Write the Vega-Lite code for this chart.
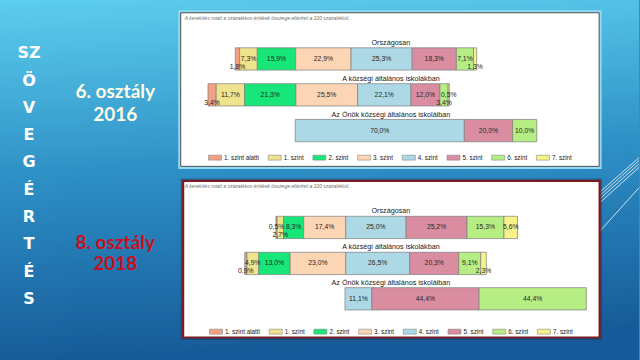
{
  "$schema": "https://vega.github.io/schema/vega-lite/v6.json",
  "width": 640,
  "height": 360,
  "autosize": {"type": "fit", "contains": "padding"},
  "padding": 0,
  "background": "#2E90C6",
  "config": {
    "view": {"stroke": null},
    "locale": {"number": {"decimal": ",", "thousands": " ", "grouping": [3], "currency": ["", " Ft"]}}
  },
  "datasets": {
    "groups": [
      {"gid": "A1", "panel": 2016, "title": "Országosan", "y": 55.5},
      {"gid": "A2", "panel": 2016, "title": "A községi általános iskolákban", "y": 92.4},
      {"gid": "A3", "panel": 2016, "title": "Az Önök községi általános iskoláiban", "y": 129.2},
      {"gid": "B1", "panel": 2018, "title": "Országosan", "y": 228.8},
      {"gid": "B2", "panel": 2018, "title": "A községi általános iskolákban", "y": 265.8},
      {"gid": "B3", "panel": 2018, "title": "Az Önök községi általános iskoláiban", "y": 302.2}
    ],
    "bars": [
      {"gid": "A1", "level": "1. szint alatti", "share": 0.018, "x0": -0.606, "x1": -0.588},
      {"gid": "A1", "level": "1. szint", "share": 0.073, "x0": -0.588, "x1": -0.515},
      {"gid": "A1", "level": "2. szint", "share": 0.159, "x0": -0.515, "x1": -0.356},
      {"gid": "A1", "level": "3. szint", "share": 0.229, "x0": -0.356, "x1": -0.127},
      {"gid": "A1", "level": "4. szint", "share": 0.253, "x0": -0.127, "x1": 0.126},
      {"gid": "A1", "level": "5. szint", "share": 0.183, "x0": 0.126, "x1": 0.309},
      {"gid": "A1", "level": "6. szint", "share": 0.071, "x0": 0.309, "x1": 0.380},
      {"gid": "A1", "level": "7. szint", "share": 0.013, "x0": 0.380, "x1": 0.393},
      {"gid": "A2", "level": "1. szint alatti", "share": 0.034, "x0": -0.719, "x1": -0.685},
      {"gid": "A2", "level": "1. szint", "share": 0.117, "x0": -0.685, "x1": -0.568},
      {"gid": "A2", "level": "2. szint", "share": 0.213, "x0": -0.568, "x1": -0.355},
      {"gid": "A2", "level": "3. szint", "share": 0.255, "x0": -0.355, "x1": -0.100},
      {"gid": "A2", "level": "4. szint", "share": 0.221, "x0": -0.100, "x1": 0.121},
      {"gid": "A2", "level": "5. szint", "share": 0.120, "x0": 0.121, "x1": 0.241},
      {"gid": "A2", "level": "6. szint", "share": 0.034, "x0": 0.241, "x1": 0.275},
      {"gid": "A2", "level": "7. szint", "share": 0.005, "x0": 0.275, "x1": 0.280},
      {"gid": "A3", "level": "4. szint", "share": 0.700, "x0": -0.358, "x1": 0.342},
      {"gid": "A3", "level": "5. szint", "share": 0.200, "x0": 0.342, "x1": 0.542},
      {"gid": "A3", "level": "6. szint", "share": 0.100, "x0": 0.542, "x1": 0.642},
      {"gid": "B1", "level": "1. szint alatti", "share": 0.005, "x0": -0.438, "x1": -0.433},
      {"gid": "B1", "level": "1. szint", "share": 0.027, "x0": -0.433, "x1": -0.406},
      {"gid": "B1", "level": "2. szint", "share": 0.083, "x0": -0.406, "x1": -0.323},
      {"gid": "B1", "level": "3. szint", "share": 0.174, "x0": -0.323, "x1": -0.149},
      {"gid": "B1", "level": "4. szint", "share": 0.250, "x0": -0.149, "x1": 0.101},
      {"gid": "B1", "level": "5. szint", "share": 0.252, "x0": 0.101, "x1": 0.353},
      {"gid": "B1", "level": "6. szint", "share": 0.153, "x0": 0.353, "x1": 0.506},
      {"gid": "B1", "level": "7. szint", "share": 0.056, "x0": 0.506, "x1": 0.562},
      {"gid": "B2", "level": "1. szint alatti", "share": 0.009, "x0": -0.567, "x1": -0.558},
      {"gid": "B2", "level": "1. szint", "share": 0.049, "x0": -0.558, "x1": -0.509},
      {"gid": "B2", "level": "2. szint", "share": 0.130, "x0": -0.509, "x1": -0.379},
      {"gid": "B2", "level": "3. szint", "share": 0.230, "x0": -0.379, "x1": -0.149},
      {"gid": "B2", "level": "4. szint", "share": 0.265, "x0": -0.149, "x1": 0.116},
      {"gid": "B2", "level": "5. szint", "share": 0.203, "x0": 0.116, "x1": 0.319},
      {"gid": "B2", "level": "6. szint", "share": 0.091, "x0": 0.319, "x1": 0.410},
      {"gid": "B2", "level": "7. szint", "share": 0.023, "x0": 0.410, "x1": 0.433},
      {"gid": "B3", "level": "4. szint", "share": 0.111, "x0": -0.152, "x1": -0.041},
      {"gid": "B3", "level": "5. szint", "share": 0.444, "x0": -0.041, "x1": 0.403},
      {"gid": "B3", "level": "6. szint", "share": 0.444, "x0": 0.403, "x1": 0.847}
    ],
    "panels": [
      {"panel": 2016, "x0": -0.832, "x1": 0.900, "y0": 8, "y1": 166},
      {"panel": 2018, "x0": -0.822, "x1": 0.902, "y0": 181, "y1": 342}
    ],
    "captions": [
      {"panel": 2016, "note": "A kerekítés miatt a százalékos értékek összege eltérhet a 100 százaléktól.", "y": 15},
      {"panel": 2018, "note": "A kerekítés miatt a százalékos értékek összege eltérhet a 100 százaléktól.", "y": 188}
    ],
    "letters": [
      {"ch": "SZ", "y": 55}, {"ch": "Ö", "y": 83}, {"ch": "V", "y": 111}, {"ch": "E", "y": 139},
      {"ch": "G", "y": 167}, {"ch": "É", "y": 195}, {"ch": "R", "y": 223}, {"ch": "T", "y": 251},
      {"ch": "É", "y": 280}, {"ch": "S", "y": 308}
    ],
    "grades": [
      {"t": "6. osztály", "year": 2016, "y": 96},
      {"t": "2016", "year": 2016, "y": 119},
      {"t": "8. osztály", "year": 2018, "y": 251},
      {"t": "2018", "year": 2018, "y": 273}
    ],
    "deco": [
      {"x0": 0.891, "y0": 195, "x1": 1.065, "y1": 157},
      {"x0": 0.891, "y0": 198.5, "x1": 1.065, "y1": 160},
      {"x0": 0.891, "y0": 202, "x1": 1.065, "y1": 163.5},
      {"x0": 0.891, "y0": 206, "x1": 1.065, "y1": 167},
      {"x0": 0.891, "y0": 236, "x1": 1.065, "y1": 188}
    ]
  },
  "layer": [
    {
      "data": {"values": [{}]},
      "mark": {"type": "rect", "fill": {"gradient": "linear", "x1": 0, "y1": 0, "x2": 0.1, "y2": 1, "stops": [{"offset": 0, "color": "#5DCEEE"}, {"offset": 0.5, "color": "#2D8FC5"}, {"offset": 1, "color": "#165B99"}]}},
      "encoding": {}
    },
    {
      "data": {"name": "deco"},
      "mark": {"type": "rule", "color": "#FFFFFF", "strokeWidth": 1, "opacity": 0.75},
      "encoding": {
        "x": {"field": "x0", "type": "quantitative", "scale": {"domain": [-1.58, 1.065], "nice": false, "zero": false}, "axis": null},
        "x2": {"field": "x1"},
        "y": {"field": "y0", "type": "quantitative", "scale": {"domain": [0, 360], "reverse": true, "nice": false, "zero": false}, "axis": null},
        "y2": {"field": "y1"}
      }
    },
    {
      "data": {"name": "panels"},
      "transform": [{"filter": "datum.panel == 2016"}],
      "mark": {"type": "rect", "filled": false, "stroke": "#8FD9F3", "strokeWidth": 5},
      "encoding": {
        "x": {"field": "x0", "type": "quantitative", "scale": {"domain": [-1.58, 1.065], "nice": false, "zero": false}, "axis": null},
        "x2": {"field": "x1"},
        "y": {"field": "y0", "type": "quantitative", "scale": {"domain": [0, 360], "reverse": true, "nice": false, "zero": false}, "axis": null},
        "y2": {"field": "y1"}
      }
    },
    {
      "data": {"name": "panels"},
      "transform": [{"filter": "datum.panel == 2018"}],
      "mark": {"type": "rect", "filled": false, "stroke": "#0B2F4F", "strokeWidth": 5, "strokeOpacity": 0.35},
      "encoding": {
        "x": {"field": "x0", "type": "quantitative", "scale": {"domain": [-1.58, 1.065], "nice": false, "zero": false}, "axis": null},
        "x2": {"field": "x1"},
        "y": {"field": "y0", "type": "quantitative", "scale": {"domain": [0, 360], "reverse": true, "nice": false, "zero": false}, "axis": null},
        "y2": {"field": "y1"}
      }
    },
    {
      "data": {"name": "panels"},
      "transform": [{"filter": "datum.panel == 2016"}],
      "mark": {"type": "rect", "fill": "#FFFFFF", "stroke": "#4D4D4D", "strokeWidth": 1},
      "encoding": {
        "x": {"field": "x0", "type": "quantitative", "scale": {"domain": [-1.58, 1.065], "nice": false, "zero": false}, "axis": null},
        "x2": {"field": "x1"},
        "y": {"field": "y0", "type": "quantitative", "scale": {"domain": [0, 360], "reverse": true, "nice": false, "zero": false}, "axis": null},
        "y2": {"field": "y1"}
      }
    },
    {
      "data": {"name": "panels"},
      "transform": [{"filter": "datum.panel == 2018"}],
      "mark": {"type": "rect", "fill": "#FFFFFF", "stroke": "#7A1C22", "strokeWidth": 2.2},
      "encoding": {
        "x": {"field": "x0", "type": "quantitative", "scale": {"domain": [-1.58, 1.065], "nice": false, "zero": false}, "axis": null},
        "x2": {"field": "x1"},
        "y": {"field": "y0", "type": "quantitative", "scale": {"domain": [0, 360], "reverse": true, "nice": false, "zero": false}, "axis": null},
        "y2": {"field": "y1"}
      }
    },
    {
      "data": {"name": "captions"},
      "mark": {"type": "text", "align": "left", "baseline": "alphabetic", "font": "Liberation Sans", "fontSize": 5, "fontStyle": "italic", "color": "#6E6E6E"},
      "encoding": {
        "x": {"datum": -0.815, "type": "quantitative", "scale": {"domain": [-1.58, 1.065], "nice": false, "zero": false}, "axis": null},
        "y": {"field": "y", "type": "quantitative", "scale": {"domain": [0, 360], "reverse": true, "nice": false, "zero": false}, "axis": null},
        "text": {"field": "note"}
      }
    },
    {
      "data": {"name": "groups"},
      "mark": {"type": "text", "align": "center", "baseline": "alphabetic", "dy": -14, "font": "Liberation Sans", "fontSize": 7.2, "color": "#1A1A1A"},
      "encoding": {
        "x": {"datum": 0.038, "type": "quantitative", "scale": {"domain": [-1.58, 1.065], "nice": false, "zero": false}, "axis": null},
        "y": {"field": "y", "type": "quantitative", "scale": {"domain": [0, 360], "reverse": true, "nice": false, "zero": false}, "axis": null},
        "text": {"field": "title"}
      }
    },
    {
      "data": {"name": "bars"},
      "transform": [
        {"lookup": "gid", "from": {"data": {"name": "groups"}, "key": "gid", "fields": ["y", "panel"]}},
        {"filter": "datum.panel == 2016"}
      ],
      "mark": {"type": "bar", "height": 22.3, "stroke": "#7D7D7D", "strokeWidth": 0.7},
      "encoding": {
        "x": {"field": "x0", "type": "quantitative", "scale": {"domain": [-1.58, 1.065], "nice": false, "zero": false}, "axis": null},
        "x2": {"field": "x1"},
        "y": {"field": "y", "type": "quantitative", "scale": {"domain": [0, 360], "reverse": true, "nice": false, "zero": false}, "axis": null},
        "color": {
          "field": "level", "type": "nominal",
          "scale": {"domain": ["1. szint alatti", "1. szint", "2. szint", "3. szint", "4. szint", "5. szint", "6. szint", "7. szint"], "range": ["#F4A081", "#EFE38E", "#19E678", "#FCD5B4", "#ADD8E6", "#DA8DA1", "#B6EE84", "#F8F28B"]},
          "legend": {"orient": "none", "legendX": 208, "legendY": 150.5, "direction": "horizontal", "title": null, "symbolType": "M-1,-0.38H1V0.38H-1Z", "symbolSize": 169, "symbolStrokeColor": "#8A8A8A", "symbolStrokeWidth": 0.6, "labelFont": "Liberation Sans", "labelFontSize": 6.3, "labelColor": "#222222", "labelOffset": 2, "columnPadding": 7.7, "padding": 0}
        }
      }
    },
    {
      "data": {"name": "bars"},
      "transform": [
        {"lookup": "gid", "from": {"data": {"name": "groups"}, "key": "gid", "fields": ["y", "panel"]}},
        {"filter": "datum.panel == 2018"},
        {"fold": ["level"], "as": ["key", "szint"]}
      ],
      "mark": {"type": "bar", "height": 22.3, "stroke": "#7D7D7D", "strokeWidth": 0.7},
      "encoding": {
        "x": {"field": "x0", "type": "quantitative", "scale": {"domain": [-1.58, 1.065], "nice": false, "zero": false}, "axis": null},
        "x2": {"field": "x1"},
        "y": {"field": "y", "type": "quantitative", "scale": {"domain": [0, 360], "reverse": true, "nice": false, "zero": false}, "axis": null},
        "fill": {
          "field": "szint", "type": "nominal",
          "sort": ["1. szint alatti", "1. szint", "2. szint", "3. szint", "4. szint", "5. szint", "6. szint", "7. szint"],
          "scale": {"range": ["#F4A081", "#EFE38E", "#19E678", "#FCD5B4", "#ADD8E6", "#DA8DA1", "#B6EE84", "#F8F28B"]},
          "legend": {"orient": "none", "legendX": 209, "legendY": 324.5, "direction": "horizontal", "title": null, "symbolType": "M-1,-0.38H1V0.38H-1Z", "symbolSize": 169, "symbolStrokeColor": "#8A8A8A", "symbolStrokeWidth": 0.6, "labelFont": "Liberation Sans", "labelFontSize": 6.3, "labelColor": "#222222", "labelOffset": 2, "columnPadding": 7.7, "padding": 0}
        }
      }
    },
    {
      "data": {"name": "bars"},
      "transform": [
        {"lookup": "gid", "from": {"data": {"name": "groups"}, "key": "gid", "fields": ["y"]}},
        {"fold": ["x0", "x1"], "as": ["edge", "xe"]},
        {"aggregate": [{"op": "mean", "field": "xe", "as": "mid"}], "groupby": ["gid", "level", "share", "y"]},
        {"filter": "datum.share >= 0.04 || datum.share < 0.006"}
      ],
      "mark": {"type": "text", "align": "center", "baseline": "middle", "font": "Liberation Sans", "fontSize": 6.8, "color": "#262626"},
      "encoding": {
        "x": {"field": "mid", "type": "quantitative", "scale": {"domain": [-1.58, 1.065], "nice": false, "zero": false}, "axis": null},
        "y": {"field": "y", "type": "quantitative", "scale": {"domain": [0, 360], "reverse": true, "nice": false, "zero": false}, "axis": null},
        "text": {"field": "share", "type": "quantitative", "format": ".1%"}
      }
    },
    {
      "data": {"name": "bars"},
      "transform": [
        {"lookup": "gid", "from": {"data": {"name": "groups"}, "key": "gid", "fields": ["y"]}},
        {"fold": ["x0", "x1"], "as": ["edge", "xe"]},
        {"aggregate": [{"op": "mean", "field": "xe", "as": "mid"}], "groupby": ["gid", "level", "share", "y"]},
        {"filter": "datum.share < 0.04 && datum.share >= 0.006"}
      ],
      "mark": {"type": "text", "align": "center", "baseline": "middle", "dy": 8, "font": "Liberation Sans", "fontSize": 6.8, "color": "#262626"},
      "encoding": {
        "x": {"field": "mid", "type": "quantitative", "scale": {"domain": [-1.58, 1.065], "nice": false, "zero": false}, "axis": null},
        "y": {"field": "y", "type": "quantitative", "scale": {"domain": [0, 360], "reverse": true, "nice": false, "zero": false}, "axis": null},
        "text": {"field": "share", "type": "quantitative", "format": ".1%"}
      }
    },
    {
      "data": {"name": "letters"},
      "mark": {"type": "text", "align": "center", "baseline": "alphabetic", "font": "DejaVu Sans", "fontWeight": "bold", "fontSize": 16, "color": "#FFFFFF"},
      "encoding": {
        "x": {"datum": -1.46, "type": "quantitative", "scale": {"domain": [-1.58, 1.065], "nice": false, "zero": false}, "axis": null},
        "y": {"field": "y", "type": "quantitative", "scale": {"domain": [0, 360], "reverse": true, "nice": false, "zero": false}, "axis": null},
        "text": {"field": "ch"}
      }
    },
    {
      "data": {"name": "grades"},
      "mark": {"type": "text", "align": "center", "baseline": "alphabetic", "font": "Lato", "fontWeight": "bold", "fontSize": 19},
      "encoding": {
        "x": {"datum": -1.103, "type": "quantitative", "scale": {"domain": [-1.58, 1.065], "nice": false, "zero": false}, "axis": null},
        "y": {"field": "y", "type": "quantitative", "scale": {"domain": [0, 360], "reverse": true, "nice": false, "zero": false}, "axis": null},
        "text": {"field": "t"},
        "color": {"condition": {"test": "datum.year == 2018", "value": "#C8101E"}, "value": "#FFFDE6"}
      }
    }
  ]
}
